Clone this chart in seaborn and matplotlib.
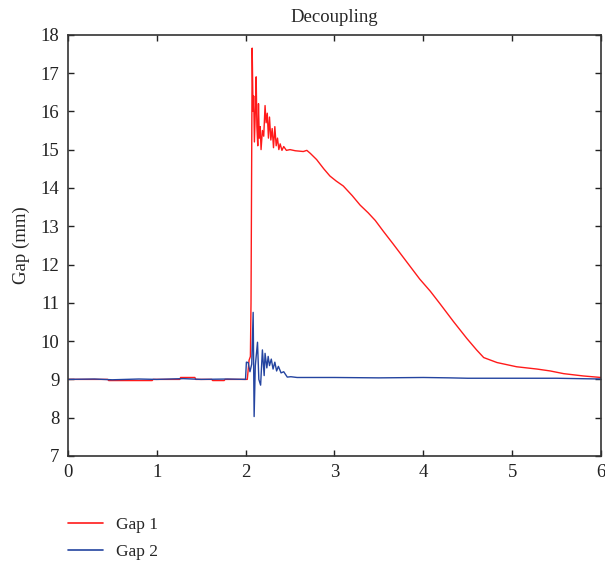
import numpy as np
import pandas as pd
import matplotlib
matplotlib.use("Agg")
import matplotlib.pyplot as plt
import seaborn as sns
from matplotlib.lines import Line2D

# ---- data ----
gap1_t = [0.0, 0.45, 0.46, 0.95, 0.96, 1.26, 1.27, 1.43, 1.44, 1.62, 1.63, 1.76, 1.77, 2.02,
          2.04, 2.055, 2.062, 2.075, 2.085, 2.092, 2.100, 2.112, 2.120, 2.128, 2.138, 2.146,
          2.155, 2.165, 2.175, 2.19, 2.205, 2.22, 2.232, 2.245, 2.258, 2.27, 2.285, 2.30,
          2.315, 2.33, 2.345, 2.36, 2.375, 2.39, 2.41, 2.43, 2.46, 2.50, 2.56, 2.65, 2.69,
          2.73, 2.80, 2.88, 2.95, 3.02, 3.10, 3.20, 3.29, 3.38, 3.46, 3.55, 3.66, 3.81,
          3.96, 4.08, 4.19, 4.34, 4.49, 4.60, 4.68, 4.83, 5.05, 5.28, 5.43, 5.58, 5.80, 6.0]
gap1_v = [9.0, 9.0, 8.97, 8.97, 9.0, 9.0, 9.05, 9.05, 9.0, 9.0, 8.97, 8.97, 9.0, 9.0,
          9.5, 9.6, 11.0, 17.65, 16.0, 16.4, 15.2, 16.1, 16.9, 15.6, 15.1, 16.2,
          15.3, 15.6, 15.0, 15.5, 15.35, 16.15, 15.7, 15.95, 15.3, 15.85, 15.25, 15.55,
          15.05, 15.6, 15.1, 15.3, 15.0, 15.15, 14.98, 15.08, 14.98, 15.0, 14.97, 14.95, 14.98,
          14.9, 14.74, 14.5, 14.31, 14.18, 14.05, 13.8, 13.55, 13.35, 13.15, 12.87, 12.54, 12.08,
          11.62, 11.3, 10.97, 10.51, 10.07, 9.77, 9.57, 9.44, 9.33, 9.27, 9.22, 9.15, 9.09, 9.05]

gap2_t = [0.0, 0.30, 0.50, 0.80, 1.00, 1.30, 1.50, 1.80, 2.00, 2.01, 2.03, 2.05, 2.07,
          2.086, 2.097, 2.11, 2.135, 2.15, 2.17, 2.19, 2.21, 2.22, 2.24, 2.255, 2.27,
          2.29, 2.31, 2.33, 2.35, 2.37, 2.40, 2.43, 2.47, 2.51, 2.58, 3.0, 3.5, 4.0,
          4.3, 4.5, 5.0, 5.5, 6.0]
gap2_v = [9.0, 9.01, 8.99, 9.01, 9.0, 9.02, 9.0, 9.01, 9.0, 9.45, 9.44, 9.2, 9.4,
          10.75, 8.03, 9.35, 9.97, 9.0, 8.85, 9.77, 9.1, 9.68, 9.3, 9.6, 9.36,
          9.53, 9.27, 9.45, 9.22, 9.34, 9.17, 9.2, 9.06, 9.07, 9.05, 9.05, 9.04, 9.05,
          9.04, 9.03, 9.03, 9.03, 9.01]

series_names = ["Gap 1", "Gap 2"]
title = "Decoupling"
ylabel = "Gap (mm)"
xticks = [0, 1, 2, 3, 4, 5, 6]
yticks = [7, 8, 9, 10, 11, 12, 13, 14, 15, 16, 17, 18]

df = pd.concat([
    pd.DataFrame({"t": gap1_t, "gap": gap1_v, "series": series_names[0]}),
    pd.DataFrame({"t": gap2_t, "gap": gap2_v, "series": series_names[1]}),
], ignore_index=True)

sns.set_style("ticks")
plt.rcParams["font.family"] = ["Liberation Serif", "DejaVu Serif"]

fig = plt.figure(figsize=(6.05, 5.69), dpi=100)
ax = fig.add_axes([0.112, 0.1986, 0.8814, 0.7404])

colors = {"Gap 1": "#ff1a1a", "Gap 2": "#2444a0"}
sns.lineplot(data=df, x="t", y="gap", hue="series", sort=False, estimator=None,
             palette=colors, linewidth=1.0, ax=ax, legend=False)

ax.set_xlim(0, 6)
ax.set_ylim(7, 18)
ax.set_xticks(xticks)
ax.set_yticks(yticks)
ax.set_xlabel("")
ax.set_ylabel(ylabel, fontsize=13.5, labelpad=8)
ax.set_title(title, fontsize=13.5, pad=9)
ax.tick_params(direction="in", length=4, width=1.0, top=True, right=True,
               labelsize=13.5, colors="#222222", pad=6)
for s in ax.spines.values():
    s.set_visible(True)
    s.set_linewidth(1.2)
    s.set_color("#333333")

handles = [Line2D([], [], color=colors[n], lw=1.2) for n in series_names]
fig.legend(handles, series_names, loc="upper left", bbox_to_anchor=(0.113, 0.091),
           frameon=False, fontsize=12.5, handlelength=2.0, handletextpad=0.75,
           labelspacing=0.6, borderpad=0, borderaxespad=0)

fig.savefig("out.png", dpi=100)
